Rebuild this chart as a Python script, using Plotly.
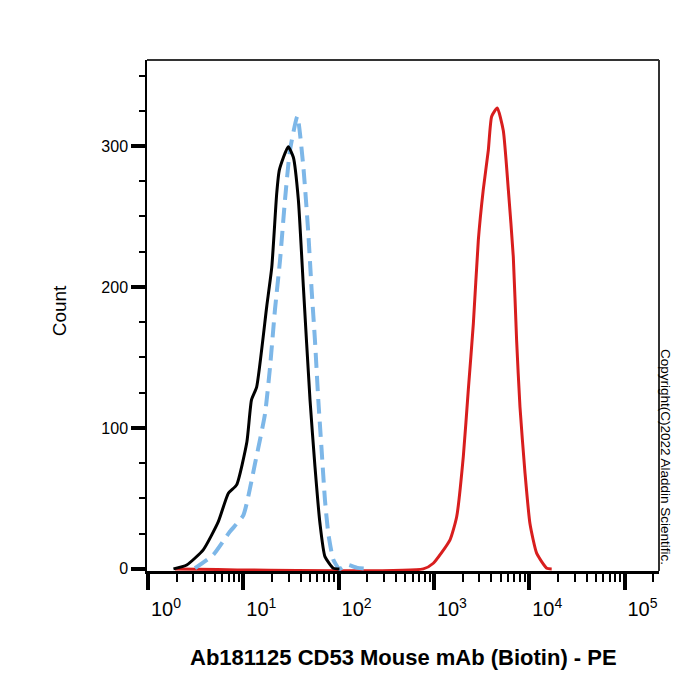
import plotly.graph_objects as go

# ---- data ----
black_x = [1.85, 2.55, 3.80, 5.47, 6.97, 8.51, 10.9, 12.2, 13.8, 17.6, 19.9, 22.4, 23.9,
           29.6, 33.5, 37.8, 42.7, 50.1, 56.5, 63.8, 71.9, 88.1, 102]
black_y = [0, 2.8, 13.5, 33.5, 53.7, 59.6, 90, 120, 129, 186, 214, 266, 283,
           299.5, 292, 262, 200, 120, 72.5, 32, 8.7, 0.5, 0]

blue_x = [3.11, 4.85, 7.24, 10.0, 13.3, 16.9, 19.1, 21.5, 24.3, 27.4, 30.9, 36.9, 42.7,
          48.1, 52.1, 56.5, 61.2, 66.4, 71.9, 78.0, 88.1, 102, 122, 158, 214]
blue_y = [0.5, 10, 26.5, 38, 75, 110, 143.5, 184, 219, 262, 297, 321, 285,
          238, 198, 162, 120, 84, 49, 25, 6.4, 0, 3, 0.7, 0]

red_x = [1.92, 774, 986, 1476, 1734, 2037, 2296, 2594, 2924, 3296, 3724, 4036, 4624,
         5346, 6039, 6808, 7379, 7998, 9036, 10190, 11995, 15276, 17219]
red_y = [0, 0, 4, 20.6, 37, 80, 127, 174, 233, 269, 297, 321, 327,
         311, 269, 221.5, 162, 115, 68, 32, 11, 0.5, 0]

x_tickvals = [1, 10, 100, 1000, 10000, 100000]
x_ticktext = ["10<sup>0</sup>", "10<sup>1</sup>", "10<sup>2</sup>",
              "10<sup>3</sup>", "10<sup>4</sup>", "10<sup>5</sup>"]
y_tickvals = [0, 100, 200, 300]

x_title = "Ab181125 CD53 Mouse mAb (Biotin) - PE"
y_title = "Count"
copyright_text = "Copyright(C)2022 Aladdin Scientific."

FONT = "Liberation Sans, Arial, sans-serif"

fig = go.Figure()
fig.add_trace(go.Scatter(x=red_x, y=red_y, mode="lines",
                         line=dict(color="#d81e1e", width=3, shape="spline", smoothing=0.5),
                         hoverinfo="skip"))
fig.add_trace(go.Scatter(x=blue_x, y=blue_y, mode="lines",
                         line=dict(color="#7db7e8", width=4, dash="15px,8px",
                                   shape="spline", smoothing=0.5),
                         hoverinfo="skip"))
fig.add_trace(go.Scatter(x=black_x, y=black_y, mode="lines",
                         line=dict(color="#000000", width=3, shape="spline", smoothing=0.5),
                         hoverinfo="skip"))

fig.update_layout(
    width=700, height=700,
    margin=dict(l=147, r=41, t=60, b=129),
    paper_bgcolor="white", plot_bgcolor="white",
    showlegend=False,
    font=dict(family=FONT, color="black"),
)

fig.update_xaxes(
    type="log", range=[-0.0105, 5.362],
    showgrid=False, zeroline=False,
    showline=True, linecolor="black", linewidth=3,
    ticks="outside", ticklen=16, tickwidth=4, tickcolor="black",
    tickvals=x_tickvals, ticktext=x_ticktext,
    tickfont=dict(size=20, family=FONT, color="black"),
    ticklabelshift=18, ticklabelstandoff=2,
    minor=dict(ticks="outside", ticklen=8, tickwidth=2, tickcolor="black", dtick="D1"),
)
fig.update_yaxes(
    range=[-1.5, 361],
    showgrid=False, zeroline=False,
    showline=True, linecolor="black", linewidth=1.5,
    ticks="outside", ticklen=14, tickwidth=4, tickcolor="black",
    tickvals=y_tickvals,
    tickfont=dict(size=16, family=FONT, color="black"),
    minor=dict(ticks="outside", ticklen=6, tickwidth=1.5, tickcolor="black", dtick=25),
)

# top and right frame lines
fig.add_shape(type="line", xref="paper", yref="paper", x0=0, x1=1, y0=1, y1=1,
              line=dict(color="#333333", width=2))
fig.add_shape(type="line", xref="paper", yref="paper", x0=1, x1=1, y0=0, y1=1,
              line=dict(color="#333333", width=2))

fig.add_annotation(text="<b>" + x_title + "</b>", xref="paper", yref="paper",
                   x=0.5, y=-0.17, xanchor="center", yanchor="middle",
                   showarrow=False, font=dict(size=22, family=FONT, color="black"))
fig.add_annotation(text=y_title, xref="paper", yref="paper",
                   x=-0.172, y=0.51, xanchor="center", yanchor="middle", textangle=-90,
                   showarrow=False, font=dict(size=19, family=FONT, color="black"))
fig.add_annotation(text=copyright_text, xref="paper", yref="paper",
                   x=1.014, y=0.223, xanchor="center", yanchor="middle", textangle=90,
                   showarrow=False, font=dict(size=13.5, family=FONT, color="black"))

fig.write_html("out.html")
